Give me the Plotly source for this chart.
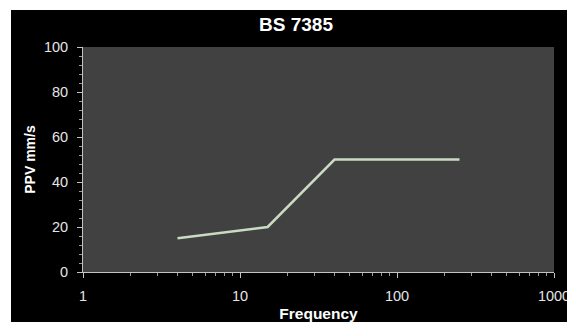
import plotly.graph_objects as go

frequency = [4, 15, 40, 250]
ppv = [15, 20, 50, 50]
title_text = "BS 7385"
x_title = "Frequency"
y_title = "PPV mm/s"
x_tickvals = [1, 10, 100, 1000]
x_ticktext = ["1", "10", "100", "1000"]
y_tickvals = [0, 20, 40, 60, 80, 100]

# page body has an 8px margin, so the figure is 8px smaller than the window
OFF = 8
W, H = 575 - OFF, 322 - OFF
L, R, T, B = 83 - OFF, 21, 47 - OFF, 50
pw, ph = W - L - R, H - T - B

fig = go.Figure()
fig.add_trace(go.Scatter(x=frequency, y=ppv, mode="lines",
                         line=dict(color="#c9dcc3", width=2.5), showlegend=False))

font = "Liberation Sans, Arial, sans-serif"
white_strip = dict(type="rect", xref="paper", yref="paper", layer="above",
                   fillcolor="white", line=dict(width=0))
fig.update_layout(
    width=W, height=H,
    margin=dict(l=L, r=R, t=T, b=B, autoexpand=False),
    paper_bgcolor="black",
    plot_bgcolor="#414141",
    title=dict(text="<b>" + title_text + "</b>", x=(296 - OFF) / W, xanchor="center",
               y=1 - (24 - OFF) / H, yanchor="middle", yref="container",
               font=dict(family=font, size=19, color="white")),
    shapes=[
        dict(white_strip, x0=-L / pw - 0.01, x1=(11 - OFF - L) / pw,
             y0=-(B + 2) / ph, y1=1 + (T + 2) / ph),
        dict(white_strip, x0=-L / pw - 0.01, x1=1 + (R + 2) / pw,
             y0=1 + (T - (10 - OFF)) / ph, y1=1 + (T + 2) / ph),
    ],
)
fig.update_xaxes(
    type="log", range=[0, 3], tickvals=x_tickvals, ticktext=x_ticktext,
    automargin=False,
    showgrid=False, zeroline=False, showline=True, linecolor="#c4c4c4", linewidth=1,
    ticks="outside", ticklen=5, tickcolor="#c4c4c4",
    minor=dict(ticks="outside", ticklen=3, tickcolor="#9a9a9a", dtick="D1", showgrid=False),
    tickfont=dict(family=font, size=14.5, color="#e6e6e6"),
    ticklabelstandoff=6,
    title=dict(text="<b>" + x_title + "</b>", standoff=4,
               font=dict(family=font, size=15.5, color="white")),
)
fig.update_yaxes(
    range=[0, 100], tickvals=y_tickvals, automargin=False,
    showgrid=False, zeroline=False, showline=True, linecolor="#c4c4c4", linewidth=1,
    ticks="outside", ticklen=5, tickcolor="#c4c4c4",
    minor=dict(ticks="outside", ticklen=3, tickcolor="#9a9a9a", dtick=4, showgrid=False),
    tickfont=dict(family=font, size=14.5, color="#e6e6e6"),
    ticklabelstandoff=6,
    title=dict(text="<b>" + y_title + "</b>", standoff=4,
               font=dict(family=font, size=14, color="white")),
)
fig.write_html("out.html")
